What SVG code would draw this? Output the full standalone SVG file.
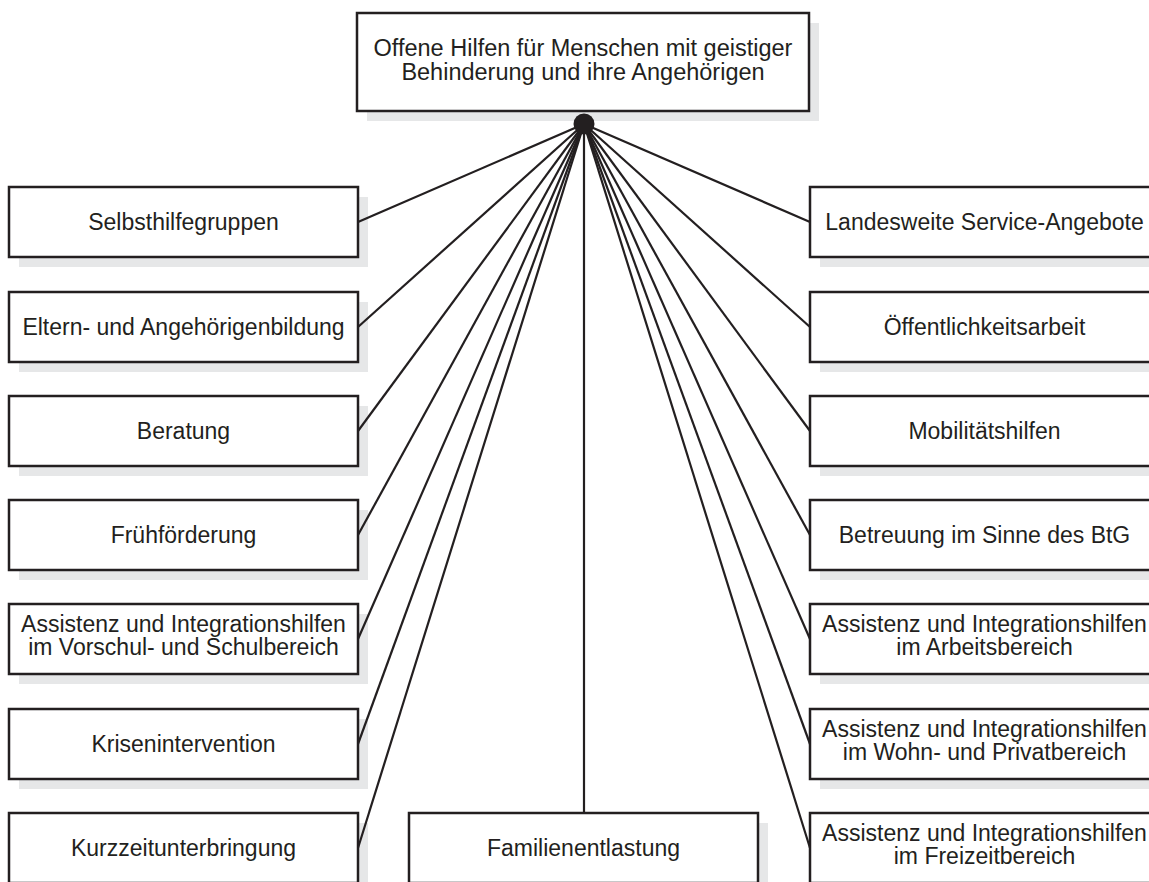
<svg xmlns="http://www.w3.org/2000/svg" width="1149" height="882" viewBox="0 0 1149 882">
  <style>
    .shadow { fill: #e6e7e8; stroke: none; }
    .box { fill: #ffffff; stroke: #231f20; stroke-width: 2.5; }
    .label { font-family: "Liberation Sans", Arial, sans-serif; font-size: 23px; fill: #231f20; text-anchor: middle; }
    .conn { stroke: #231f20; stroke-width: 2.2; fill: none; }
  </style>
  <rect width="1149" height="882" fill="#ffffff"/>

  <g id="root">
    <rect class="shadow" x="367" y="23" width="452" height="98"/>
    <rect class="box" x="357" y="13" width="452" height="98"/>
    <text class="label" x="583" y="56" style="font-size:23.5px">Offene Hilfen für Menschen mit geistiger</text>
    <text class="label" x="583" y="79.5" style="font-size:23.5px">Behinderung und ihre Angehörigen</text>
  </g>

  <g id="selbsthilfegruppen">
    <rect class="shadow" x="19" y="197" width="349" height="70"/>
    <rect class="box" x="9" y="187" width="349" height="70"/>
    <text class="label" x="183.5" y="230">Selbsthilfegruppen</text>
  </g>
  <g id="elternbildung">
    <rect class="shadow" x="19" y="302" width="349" height="70"/>
    <rect class="box" x="9" y="292" width="349" height="70"/>
    <text class="label" x="183.5" y="335">Eltern- und Angehörigenbildung</text>
  </g>
  <g id="beratung">
    <rect class="shadow" x="19" y="406" width="349" height="70"/>
    <rect class="box" x="9" y="396" width="349" height="70"/>
    <text class="label" x="183.5" y="439">Beratung</text>
  </g>
  <g id="fruehfoerderung">
    <rect class="shadow" x="19" y="510" width="349" height="70"/>
    <rect class="box" x="9" y="500" width="349" height="70"/>
    <text class="label" x="183.5" y="543">Frühförderung</text>
  </g>
  <g id="assistenz-schule">
    <rect class="shadow" x="19" y="614" width="349" height="70"/>
    <rect class="box" x="9" y="604" width="349" height="70"/>
    <text class="label" x="183.5" y="631.5">Assistenz und Integrationshilfen</text>
    <text class="label" x="183.5" y="655">im Vorschul- und Schulbereich</text>
  </g>
  <g id="krisenintervention">
    <rect class="shadow" x="19" y="719" width="349" height="70"/>
    <rect class="box" x="9" y="709" width="349" height="70"/>
    <text class="label" x="183.5" y="752">Krisenintervention</text>
  </g>
  <g id="kurzzeitunterbringung">
    <rect class="shadow" x="19" y="823" width="349" height="70"/>
    <rect class="box" x="9" y="813" width="349" height="70"/>
    <text class="label" x="183.5" y="856">Kurzzeitunterbringung</text>
  </g>

  <g id="familienentlastung">
    <rect class="shadow" x="419" y="823" width="349" height="70"/>
    <rect class="box" x="409" y="813" width="349" height="70"/>
    <text class="label" x="583.5" y="856">Familienentlastung</text>
  </g>

  <g id="service-angebote">
    <rect class="shadow" x="820" y="197" width="349" height="70"/>
    <rect class="box" x="810" y="187" width="349" height="70"/>
    <text class="label" x="984.5" y="230">Landesweite Service-Angebote</text>
  </g>
  <g id="oeffentlichkeitsarbeit">
    <rect class="shadow" x="820" y="302" width="349" height="70"/>
    <rect class="box" x="810" y="292" width="349" height="70"/>
    <text class="label" x="984.5" y="335">Öffentlichkeitsarbeit</text>
  </g>
  <g id="mobilitaetshilfen">
    <rect class="shadow" x="820" y="406" width="349" height="70"/>
    <rect class="box" x="810" y="396" width="349" height="70"/>
    <text class="label" x="984.5" y="439">Mobilitätshilfen</text>
  </g>
  <g id="betreuung">
    <rect class="shadow" x="820" y="510" width="349" height="70"/>
    <rect class="box" x="810" y="500" width="349" height="70"/>
    <text class="label" x="984.5" y="543">Betreuung im Sinne des BtG</text>
  </g>
  <g id="assistenz-arbeit">
    <rect class="shadow" x="820" y="614" width="349" height="70"/>
    <rect class="box" x="810" y="604" width="349" height="70"/>
    <text class="label" x="984.5" y="631.5">Assistenz und Integrationshilfen</text>
    <text class="label" x="984.5" y="655">im Arbeitsbereich</text>
  </g>
  <g id="assistenz-wohnen">
    <rect class="shadow" x="820" y="719" width="349" height="70"/>
    <rect class="box" x="810" y="709" width="349" height="70"/>
    <text class="label" x="984.5" y="736.5">Assistenz und Integrationshilfen</text>
    <text class="label" x="984.5" y="760">im Wohn- und Privatbereich</text>
  </g>
  <g id="assistenz-freizeit">
    <rect class="shadow" x="820" y="823" width="349" height="70"/>
    <rect class="box" x="810" y="813" width="349" height="70"/>
    <text class="label" x="984.5" y="840.5">Assistenz und Integrationshilfen</text>
    <text class="label" x="984.5" y="864">im Freizeitbereich</text>
  </g>

  <g id="connectors">
    <line class="conn" x1="584" y1="124" x2="358" y2="222"/>
    <line class="conn" x1="584" y1="124" x2="358" y2="327"/>
    <line class="conn" x1="584" y1="124" x2="358" y2="431"/>
    <line class="conn" x1="584" y1="124" x2="358" y2="535"/>
    <line class="conn" x1="584" y1="124" x2="358" y2="639"/>
    <line class="conn" x1="584" y1="124" x2="358" y2="744"/>
    <line class="conn" x1="584" y1="124" x2="358" y2="848"/>
    <line class="conn" x1="584" y1="124" x2="584" y2="813"/>
    <line class="conn" x1="584" y1="124" x2="810" y2="222"/>
    <line class="conn" x1="584" y1="124" x2="810" y2="327"/>
    <line class="conn" x1="584" y1="124" x2="810" y2="431"/>
    <line class="conn" x1="584" y1="124" x2="810" y2="535"/>
    <line class="conn" x1="584" y1="124" x2="810" y2="639"/>
    <line class="conn" x1="584" y1="124" x2="810" y2="744"/>
    <line class="conn" x1="584" y1="124" x2="810" y2="848"/>
    <circle cx="584" cy="124" r="10.5" fill="#231f20"/>
  </g>
</svg>
